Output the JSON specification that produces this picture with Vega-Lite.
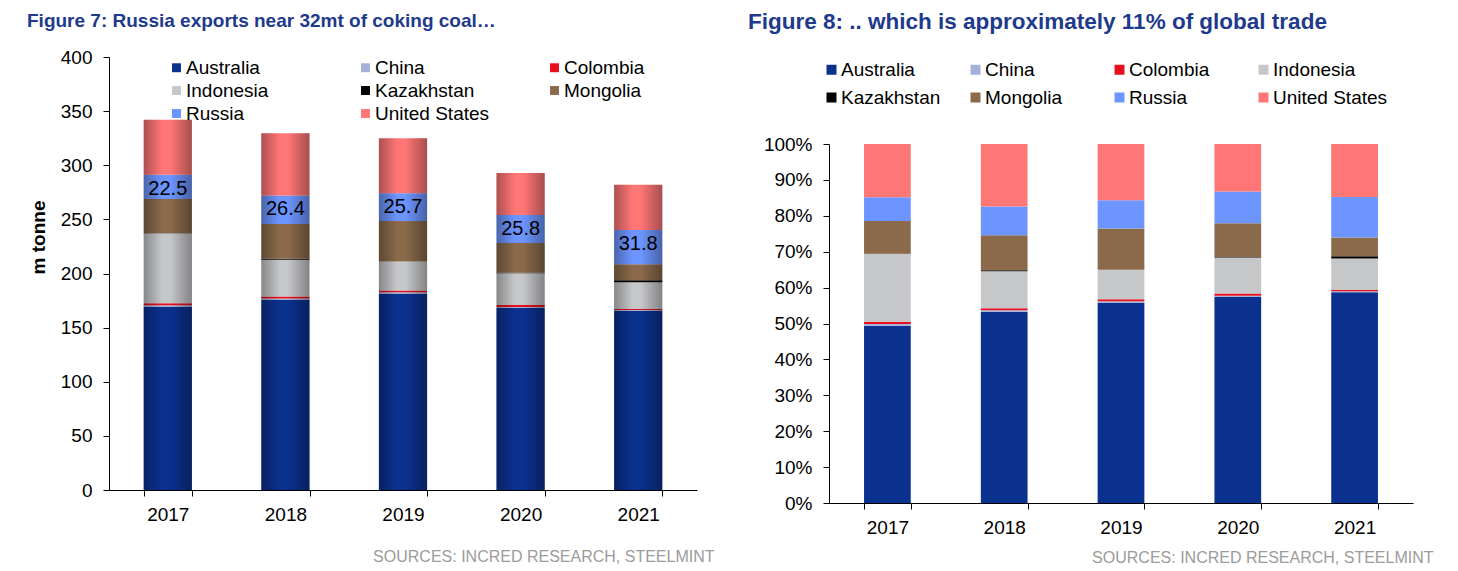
{
  "$schema": "https://vega.github.io/schema/vega-lite/v6.json",
  "background": "white",
  "padding": {"left": 27, "top": 10, "right": 5, "bottom": 0},
  "config": {
    "font": "Liberation Sans",
    "view": {"stroke": null},
    "axis": {
      "labelFont": "Liberation Sans",
      "labelFontSize": 19,
      "labelColor": "#000000",
      "domainColor": "#000000",
      "tickColor": "#000000",
      "grid": false,
      "labelPadding": 11,
      "tickSize": 6
    },
    "legend": {
      "labelFont": "Liberation Sans",
      "labelFontSize": 19,
      "labelColor": "#000000",
      "symbolType": "square",
      "symbolStrokeWidth": 0,
      "padding": 0,
      "labelOffset": 0,
      "gridAlign": "all",
      "titlePadding": 0
    },
    "title": {
      "font": "Liberation Sans",
      "fontWeight": "bold",
      "color": "#1E3A8C",
      "anchor": "start",
      "frame": "group"
    },
    "concat": {"spacing": 34}
  },
  "resolve": {"scale": {"color": "independent"}, "legend": {"color": "independent"}},
  "datasets": {
    "coal": [
      {"year": "2017", "country": "Australia", "value": 169.0},
      {"year": "2017", "country": "China", "value": 1.6},
      {"year": "2017", "country": "Colombia", "value": 2.0},
      {"year": "2017", "country": "Indonesia", "value": 64.6},
      {"year": "2017", "country": "Kazakhstan", "value": 0.3},
      {"year": "2017", "country": "Mongolia", "value": 31.3},
      {"year": "2017", "country": "Russia", "value": 22.5},
      {"year": "2017", "country": "United States", "value": 50.8},
      {"year": "2018", "country": "Australia", "value": 175.5},
      {"year": "2018", "country": "China", "value": 1.5},
      {"year": "2018", "country": "Colombia", "value": 1.8},
      {"year": "2018", "country": "Indonesia", "value": 34.0},
      {"year": "2018", "country": "Kazakhstan", "value": 0.9},
      {"year": "2018", "country": "Mongolia", "value": 32.0},
      {"year": "2018", "country": "Russia", "value": 26.4},
      {"year": "2018", "country": "United States", "value": 57.4},
      {"year": "2019", "country": "Australia", "value": 181.1},
      {"year": "2019", "country": "China", "value": 1.5},
      {"year": "2019", "country": "Colombia", "value": 1.8},
      {"year": "2019", "country": "Indonesia", "value": 26.6},
      {"year": "2019", "country": "Kazakhstan", "value": 0.2},
      {"year": "2019", "country": "Mongolia", "value": 37.2},
      {"year": "2019", "country": "Russia", "value": 25.7},
      {"year": "2019", "country": "United States", "value": 50.8},
      {"year": "2020", "country": "Australia", "value": 168.1},
      {"year": "2020", "country": "China", "value": 1.0},
      {"year": "2020", "country": "Colombia", "value": 1.8},
      {"year": "2020", "country": "Indonesia", "value": 29.3},
      {"year": "2020", "country": "Kazakhstan", "value": 0.5},
      {"year": "2020", "country": "Mongolia", "value": 27.5},
      {"year": "2020", "country": "Russia", "value": 25.8},
      {"year": "2020", "country": "United States", "value": 38.8},
      {"year": "2021", "country": "Australia", "value": 165.4},
      {"year": "2021", "country": "China", "value": 0.8},
      {"year": "2021", "country": "Colombia", "value": 1.0},
      {"year": "2021", "country": "Indonesia", "value": 24.7},
      {"year": "2021", "country": "Kazakhstan", "value": 1.8},
      {"year": "2021", "country": "Mongolia", "value": 14.8},
      {"year": "2021", "country": "Russia", "value": 31.8},
      {"year": "2021", "country": "United States", "value": 41.6}
    ]
  },
  "hconcat": [
    {
      "width": 588,
      "height": 433,
      "title": {"text": "Figure 7:  Russia exports near 32mt of coking coal…", "fontSize": 19, "dx": -82, "offset": 17},
      "data": {"name": "coal"},
      "transform": [
        {"stack": "value", "groupby": ["year"], "sort": [{"field": "country", "order": "ascending"}], "as": ["v0", "v1"]}
      ],
      "encoding": {
        "x": {
          "field": "year",
          "type": "nominal",
          "scale": {"paddingInner": 0.59, "paddingOuter": 0.295},
          "axis": {
            "title": "SOURCES: INCRED RESEARCH, STEELMINT",
            "titleFont": "Liberation Sans",
            "titleFontSize": 16,
            "titleFontWeight": "normal",
            "titleColor": "#9B9B9B",
            "titleX": 605,
            "titleY": 71,
            "titleAlign": "right",
            "titleBaseline": "alphabetic",
            "labelAngle": 0,
            "tickBand": "extent",
            "labelPadding": 9
          }
        }
      },
      "layer": [
        {
          "mark": {"type": "bar"},
          "encoding": {
            "y": {
              "field": "v0",
              "type": "quantitative",
              "title": "m tonne",
              "scale": {"domain": [0, 400]},
              "axis": {
                "values": [0, 50, 100, 150, 200, 250, 300, 350, 400],
                "titleFont": "Liberation Sans",
                "titleFontSize": 19,
                "titleFontWeight": "bold",
                "titleColor": "#000000",
                "titlePadding": 12,
                "titleY": 180
              }
            },
            "y2": {"field": "v1"},
            "color": {
              "field": "country",
              "type": "nominal",
              "scale": {
                "domain": ["Australia", "China", "Colombia", "Indonesia", "Kazakhstan", "Mongolia", "Russia", "United States"],
                "range": ["#0B318F", "#A6B1D9", "#E8101E", "#C6C7C9", "#000000", "#8A6A4B", "#6D95FF", "#FF7676"]
              },
              "legend": {
                "title": null,
                "orient": "none",
                "legendX": 58,
                "legendY": 1,
                "columns": 3,
                "direction": "horizontal",
                "symbolSize": 80,
                "columnPadding": 55,
                "rowPadding": 3
              }
            }
          }
        },
        {
          "mark": {
            "type": "bar",
            "fill": {
              "gradient": "linear",
              "x1": 0, "y1": 0, "x2": 1, "y2": 0,
              "stops": [
                {"offset": 0, "color": "rgba(0,0,0,0.32)"},
                {"offset": 0.38, "color": "rgba(0,0,0,0)"},
                {"offset": 0.55, "color": "rgba(0,0,0,0)"},
                {"offset": 1, "color": "rgba(0,0,0,0.34)"}
              ]
            }
          },
          "encoding": {
            "y": {"aggregate": "max", "field": "v1", "type": "quantitative", "title": "m tonne"}
          }
        },
        {
          "transform": [{"filter": "datum.country === 'Russia'"}],
          "mark": {"type": "text", "fontSize": 20, "color": "#000000", "font": "Liberation Sans", "baseline": "middle", "dy": 14},
          "encoding": {
            "y": {"field": "v1", "type": "quantitative", "title": "m tonne"},
            "text": {"field": "value", "type": "quantitative", "format": ".1f"}
          }
        }
      ]
    },
    {
      "width": 584,
      "height": 446,
      "title": {"text": "Figure 8: .. which is approximately 11% of global trade", "fontSize": 22.5, "dx": -81, "offset": 24},
      "data": {"name": "coal"},
      "mark": {"type": "bar"},
      "encoding": {
        "x": {
          "field": "year",
          "type": "nominal",
          "scale": {"paddingInner": 0.6, "paddingOuter": 0.3},
          "axis": {
            "title": "SOURCES: INCRED RESEARCH, STEELMINT",
            "titleFont": "Liberation Sans",
            "titleFontSize": 16,
            "titleFontWeight": "normal",
            "titleColor": "#9B9B9B",
            "titleX": 604,
            "titleY": 59,
            "titleAlign": "right",
            "titleBaseline": "alphabetic",
            "labelAngle": 0,
            "tickBand": "extent",
            "labelPadding": 9
          }
        },
        "y": {
          "field": "value",
          "type": "quantitative",
          "stack": "normalize",
          "scale": {"domain": [0, 1], "range": [446, 87]},
          "axis": {
            "title": null,
            "format": ".0%",
            "values": [0, 0.1, 0.2, 0.3, 0.4, 0.5, 0.6, 0.7, 0.8, 0.9, 1]
          }
        },
        "color": {
          "field": "country",
          "type": "nominal",
          "scale": {
            "domain": ["Australia", "China", "Colombia", "Indonesia", "Kazakhstan", "Mongolia", "Russia", "United States"],
            "range": ["#0B318F", "#A6B1D9", "#E8101E", "#C6C7C9", "#000000", "#8A6A4B", "#6D95FF", "#FF7676"]
          },
          "legend": {
            "title": null,
            "orient": "none",
            "legendX": -7,
            "legendY": 3,
            "columns": 4,
            "direction": "horizontal",
            "symbolSize": 100,
            "columnPadding": 10,
            "rowPadding": 8
          }
        },
        "order": {"field": "country", "type": "nominal", "sort": "ascending"}
      }
    }
  ]
}
